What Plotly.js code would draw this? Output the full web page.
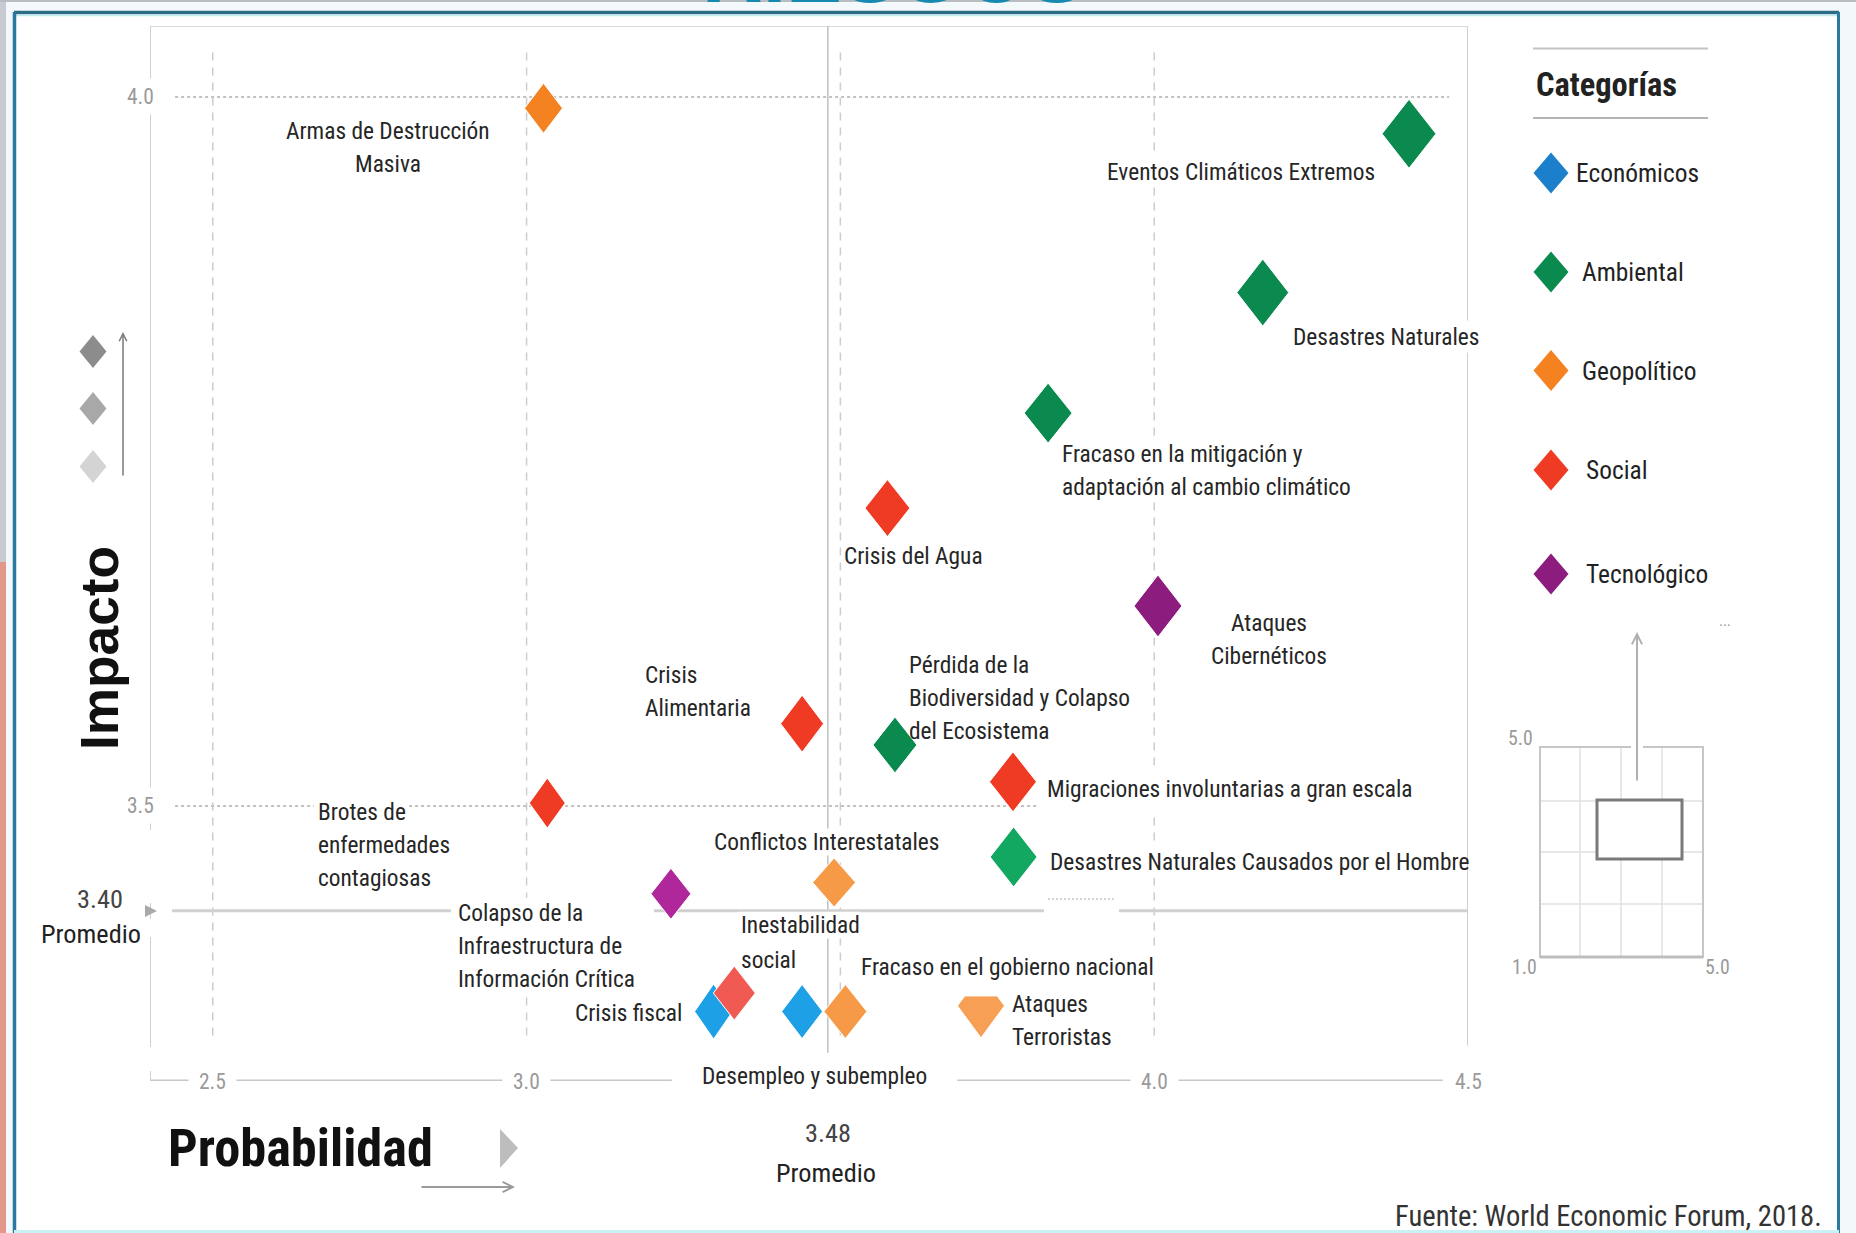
<!DOCTYPE html>
<html>
<head>
<meta charset="utf-8">
<script src="https://cdn.plot.ly/plotly-3.0.1.min.js"></script>
<style>
  html, body { margin: 0; padding: 0; background: #ffffff; }
  #chart { width: 1856px; height: 1233px; }
</style>
</head>
<body>
<div id="chart"></div>
<script>
// ------------------------------------------------------------------
// DATA
// ------------------------------------------------------------------
const riskNames = [
  'Armas de Destrucción Masiva',
  'Eventos Climáticos Extremos',
  'Desastres Naturales',
  'Fracaso en la mitigación y adaptación al cambio climático',
  'Crisis del Agua',
  'Ataques Cibernéticos',
  'Crisis Alimentaria',
  'Pérdida de la Biodiversidad y Colapso del Ecosistema',
  'Migraciones involuntarias a gran escala',
  'Brotes de enfermedades contagiosas',
  'Desastres Naturales Causados por el Hombre',
  'Conflictos Interestatales',
  'Colapso de la Infraestructura de Información Crítica',
  'Crisis fiscal',
  'Inestabilidad social',
  'Desempleo y subempleo',
  'Fracaso en el gobierno nacional',
  'Ataques Terroristas'
];
const riskLabels = [
  'Armas de Destrucción<br>Masiva',
  'Eventos Climáticos Extremos',
  'Desastres Naturales',
  'Fracaso en la mitigación y<br>adaptación al cambio climático',
  'Crisis del Agua',
  'Ataques<br>Cibernéticos',
  'Crisis<br>Alimentaria',
  'Pérdida de la<br>Biodiversidad y Colapso<br>del Ecosistema',
  'Migraciones involuntarias a gran escala',
  'Brotes de<br>enfermedades<br>contagiosas',
  'Desastres Naturales Causados por el Hombre',
  'Conflictos Interestatales',
  'Colapso de la<br>Infraestructura de<br>Información Crítica',
  'Crisis fiscal',
  'Inestabilidad<br>social',
  'Desempleo y subempleo',
  'Fracaso en el gobierno nacional',
  'Ataques<br>Terroristas'
];
const riskCategory = [
  'Geopolítico', 'Ambiental', 'Ambiental', 'Ambiental', 'Social', 'Tecnológico',
  'Social', 'Ambiental', 'Social', 'Social', 'Ambiental', 'Geopolítico',
  'Tecnológico', 'Económicos', 'Social', 'Económicos', 'Geopolítico', 'Geopolítico'
];
const probability = [
  3.027, 4.406, 4.173, 3.831, 3.575, 4.006,
  3.439, 3.587, 3.775, 3.033, 3.776, 3.490,
  3.230, 3.298, 3.331, 3.439, 3.508, 3.724
];
const impact = [
  3.992, 3.974, 3.862, 3.777, 3.710, 3.641,
  3.558, 3.543, 3.517, 3.502, 3.464, 3.446,
  3.438, 3.355, 3.368, 3.355, 3.355, 3.359
];

const categoryNames = ['Económicos', 'Ambiental', 'Geopolítico', 'Social', 'Tecnológico'];

const xTickVals = [2.5, 3.0, 4.0, 4.5];
const xTickText = ['2.5', '3.0', '4.0', '4.5'];
const yTickVals = [4.0, 3.5];
const yTickText = ['4.0', '3.5'];
const gridXVals = [2.5, 3.0, 3.5, 4.0];

const avgProbability = 3.48;
const avgProbabilityText = '3.48';
const avgImpactDrawn = 3.426;
const avgImpactText = '3.40';

const miniTickText = ['5.0', '1.0', '5.0'];
const sourceText = 'Fuente: World Economic Forum, 2018.';
const headerText = 'RIESGOS';

// ------------------------------------------------------------------
// FONTS (pick an installed condensed face, fit sizes to the reference widths)
// ------------------------------------------------------------------
const measureCtx = document.createElement('canvas').getContext('2d');
function hasFont(fam) {
  const s = 'abcdefghijklmnopqrstuvwxyz ABCDEFGHIJKLM 0123456789';
  for (const base of ['monospace', 'serif']) {
    measureCtx.font = '40px ' + base;
    const w0 = measureCtx.measureText(s).width;
    measureCtx.font = '40px "' + fam + '", ' + base;
    const w1 = measureCtx.measureText(s).width;
    if (Math.abs(w0 - w1) > 0.5) return true;
  }
  return false;
}
const narrowCandidates = ['Liberation Sans Narrow', 'Arial Narrow', 'Noto Sans Condensed', 'Roboto Condensed',
                          'Open Sans Condensed', 'Noto Sans SemiCondensed', 'DejaVu Sans Condensed'];
const narrowFam = narrowCandidates.find(hasFont) || 'DejaVu Sans Condensed';
const NARROW = '"' + narrowFam + '", "DejaVu Sans Condensed", sans-serif';
const WIDE = '"Liberation Sans", Arial, sans-serif';
function fit(fam, weight, text, target) {
  measureCtx.font = weight + ' 100px ' + fam;
  return 100 * target / measureCtx.measureText(text).width;
}
const labelSize = (fit(NARROW, 'normal', 'Eventos Climáticos Extremos', 268) +
                   fit(NARROW, 'normal', 'Migraciones involuntarias a gran escala', 366)) / 2;
function textWidth(s) {
  measureCtx.font = 'normal 100px ' + NARROW;
  return measureCtx.measureText(s).width * labelSize / 100;
}
const tickSize = labelSize * 0.92;
const promedioSize = fit(NARROW, 'normal', 'Promedio', 100);
const legendSize = fit(NARROW, 'normal', 'Económicos', 123);
const catTitleSize = fit(NARROW, 'bold', 'Categorías', 141);
const probSize = fit(NARROW, 'bold', 'Probabilidad', 265);
const sourceSize = fit(NARROW, 'normal', sourceText, 427);
const impactoSize = fit(WIDE, 'bold', 'Impacto', 204);

// ------------------------------------------------------------------
// STYLE
// ------------------------------------------------------------------
const W = 1856, H = 1233;
const categoryColors = ['#1b7fcb', '#0b8a4f', '#f58220', '#f03b24', '#8c1c7e'];
const pointColors = [
  '#f58220', '#0b8a4f', '#0b8a4f', '#0b8a4f', '#f03b24', '#8c1c7e',
  '#f03b24', '#0b8a4f', '#f03b24', '#f03b24', '#13a862', '#f79a48',
  '#b0279c', '#1ea0e6', '#f05a52', '#1ea0e6', '#f79a48', '#f7a055'
];
const diamondW = [38, 54, 52, 48, 45, 48, 43, 44, 47, 36, 47, 43, 40, 38, 42, 41, 43, 47];
const diamondH = [50, 69, 67, 60, 57, 62, 57, 56, 60, 50, 60, 49, 51, 55, 54, 54, 54, 64];
const diamondCut = [0, 0, 0, 0, 0, 0, 0, 0, 0, 0, 0, 0, 0, 0, 0, 0, 0, 0.69];

const labelDX = [-155.5, -33, 29, 13, -44.5, 111, -158.5, 13, 33, -230.5, 35.5, -121.5, -214, -30.5, 5.5, 12.5, 14.5, 30];
const labelDY = [-39, -38, -44, -57, -47.5, -34, 32.5, 47, -7, -42, -5, 40.5, -52.5, -1, 50.5, -64, 45, -15];
const labelLineStep = [33, 33, 33, 33, 33, 33, 33, 33, 33, 33, 33, 33, 33, 33, 35, 33, 33, 33];
const labelAnchor = ['center', 'right', 'left', 'left', 'left', 'center', 'left', 'left', 'left', 'left',
                     'left', 'left', 'left', 'right', 'left', 'center', 'left', 'left'];
// white knock-out box behind a label: 0 = none, 1 = per line, 2 = whole block
const labelBgMode = [0, 1, 1, 2, 0, 0, 0, 0, 1, 1, 1, 1, 2, 0, 1, 1, 1, 0];
const labelPadL = [0, 3, 3, 3, 0, 0, 0, 0, 8, 3, 3, 2, 6, 0, 2, 30, 3, 0];
const labelPadR = [0, 3, 3, 3, 0, 0, 0, 0, 100, 3, 3, 2, 20, 0, 2, 30, 3, 0];
const labelPadY = [0, 2, 2, 2, 0, 0, 0, 0, 10, 2, 2, 0, 2, 0, 0, 4, 2, 0];

// plot frame (pixels)
const PL = 150, PR = 1468, PT = 26, PB = 1081;
const XR = [2.4, 4.5];
const YR = [3.306, 4.05];
const pxPerX = (PR - PL) / (XR[1] - XR[0]);
const pxPerY = (PB - PT) / (YR[1] - YR[0]);

const P = px => px / W;
const Q = py => 1 - py / H;

// ------------------------------------------------------------------
// TRACES: diamonds as filled polygons in data space
// ------------------------------------------------------------------
const traces = probability.map((x0, i) => {
  const y0 = impact[i];
  const hw = diamondW[i] / 2 / pxPerX;
  const hh = diamondH[i] / 2 / pxPerY;
  const f = diamondCut[i];
  let xs, ys;
  if (f > 0) {
    xs = [x0 - hw * f, x0 + hw * f, x0 + hw, x0, x0 - hw, x0 - hw * f];
    ys = [y0 + hh * (1 - f), y0 + hh * (1 - f), y0, y0 - hh, y0, y0 + hh * (1 - f)];
  } else {
    xs = [x0, x0 + hw, x0, x0 - hw, x0];
    ys = [y0 + hh, y0, y0 - hh, y0, y0 + hh];
  }
  return {
    type: 'scatter', mode: 'lines', x: xs, y: ys,
    fill: 'toself', fillcolor: pointColors[i],
    line: { color: '#ffffff', width: 1 },
    name: riskNames[i], legendgroup: riskCategory[i],
    hoverinfo: 'name', showlegend: false
  };
});

// ------------------------------------------------------------------
// SHAPES
// ------------------------------------------------------------------
const shapes = [];
function pLine(x0, y0, x1, y1, color, width, dash, layer) {
  shapes.push({ type: 'line', xref: 'paper', yref: 'paper', x0: P(x0), y0: Q(y0), x1: P(x1), y1: Q(y1),
    line: { color: color, width: width, dash: dash || 'solid' }, layer: layer || 'above' });
}
function pRect(x0, y0, x1, y1, fill, lineColor, lineWidth, layer) {
  shapes.push({ type: 'rect', xref: 'paper', yref: 'paper', x0: P(x0), y0: Q(y0), x1: P(x1), y1: Q(y1),
    fillcolor: fill, line: { color: lineColor || 'rgba(0,0,0,0)', width: lineWidth || 0 }, layer: layer || 'above' });
}
function pDiamond(cx, cy, w, h, color) {
  const x = P(cx), y = Q(cy), hw = w / 2 / W, hh = h / 2 / H;
  shapes.push({ type: 'path', xref: 'paper', yref: 'paper',
    path: `M${x},${y + hh} L${x + hw},${y} L${x},${y - hh} L${x - hw},${y} Z`,
    fillcolor: color, line: { width: 0 } });
}
function dLine(x0, y0, x1, y1, color, width, dash) {
  shapes.push({ type: 'line', xref: 'x', yref: 'y', x0: x0, y0: y0, x1: x1, y1: y1,
    line: { color: color, width: width, dash: dash || 'solid' }, layer: 'below' });
}

// page background pieces
pRect(0, 0, 6, 562, '#c7cbd1', null, 0, 'below');
pRect(0, 562, 6, H, '#e3968a', null, 0, 'below');
pRect(0, 0, W, 2, '#b9bdc2', null, 0, 'below');
pRect(15, 14, 1838, H + 10, '#ffffff', null, 0, 'below');
// teal frame
pLine(14, 12.5, 1839, 12.5, '#2c6c84', 3.5, 'solid', 'below');
pLine(14, 15.5, 1839, 15.5, '#bfeaf2', 1.5, 'solid', 'below');
pLine(14.5, 12, 14.5, H + 10, '#2b78a0', 3.5, 'solid', 'below');
pLine(1838.5, 12, 1838.5, H + 10, '#2b78a0', 3, 'solid', 'below');
pLine(14, H - 1.5, 1839, H - 1.5, '#c9f2f6', 3, 'solid', 'below');

// plot frame
dLine(XR[0], YR[1], XR[1], YR[1], '#dadada', 2);
dLine(XR[0], YR[0], XR[0], YR[1], '#cfcfcf', 2);
dLine(XR[0], YR[0], 4.46, YR[0], '#c8c8c8', 3);

// gridlines
gridXVals.forEach(v => dLine(v, 3.338, v, 4.035, '#cdcdcd', 1.5, '8px,7px'));
yTickVals.forEach(v => dLine(2.44, v, 4.47, v, '#c2c2c2', 2, 'dot'));

// average lines
dLine(avgProbability, YR[0] + 0.02, avgProbability, YR[1], '#c4c4c4', 1.6);
dLine(2.435, avgImpactDrawn, XR[1], avgImpactDrawn, '#d0d0d0', 3);

// white knock-out boxes behind labels (below the diamonds, above the lines)
riskLabels.forEach((t, i) => {
  if (!labelBgMode[i]) return;
  const lines = t.split('<br>');
  const n = lines.length;
  const step = labelLineStep[i];
  const lineH = labelSize * 1.15;
  const boxes = [];
  if (labelBgMode[i] === 2) {
    boxes.push({ w: Math.max.apply(null, lines.map(l => textWidth(l))), yc: labelDY[i], h: (n - 1) * step + lineH });
  } else {
    lines.forEach((l, k) => boxes.push({ w: textWidth(l), yc: labelDY[i] + ((n - 1) / 2 - k) * step, h: lineH }));
  }
  boxes.forEach(b => {
    let xl;
    if (labelAnchor[i] === 'left') xl = labelDX[i];
    else if (labelAnchor[i] === 'right') xl = labelDX[i] - b.w;
    else xl = labelDX[i] - b.w / 2;
    shapes.push({
      type: 'rect', xref: 'x', yref: 'y', xsizemode: 'pixel', ysizemode: 'pixel',
      xanchor: probability[i], yanchor: impact[i],
      x0: xl - labelPadL[i], x1: xl + b.w + labelPadR[i],
      y0: b.yc - b.h / 2 - labelPadY[i], y1: b.yc + b.h / 2 + labelPadY[i],
      fillcolor: '#ffffff', line: { width: 0 }, layer: 'below'
    });
  });
});

// right border of the plot, drawn after the knock-out boxes
dLine(XR[1], 3.331, XR[1], YR[1], '#cfcfcf', 2);
// the short stretch where "Desastres Naturales" crosses the border stays open, as in the reference
shapes.push({ type: 'rect', xref: 'x', yref: 'y', xsizemode: 'pixel', ysizemode: 'pixel',
  xanchor: XR[1], yanchor: impact[2], x0: -4, x1: 4, y0: labelDY[2] - 16, y1: labelDY[2] + 16,
  fillcolor: '#ffffff', line: { width: 0 }, layer: 'below' });

// small breaks in lines, as in the reference
pRect(1044, 904, 1119, 918, '#ffffff', null, 0);
pLine(1048, 899, 1116, 899, '#c8c8c8', 1.5, '2px,2px');
pRect(146, 830, 156, 903, '#ffffff', null, 0);
pRect(146, 919, 156, 937, '#ffffff', null, 0);
pRect(146, 1047, 156, 1071, '#ffffff', null, 0);

// avg impact marker triangle
shapes.push({ type: 'path', xref: 'paper', yref: 'paper',
  path: `M${P(145)},${Q(905)} L${P(157)},${Q(911)} L${P(145)},${Q(917)} Z`,
  fillcolor: '#a9a9a9', line: { width: 0 } });

// Probabilidad triangle
shapes.push({ type: 'path', xref: 'paper', yref: 'paper',
  path: `M${P(500)},${Q(1129)} L${P(518)},${Q(1148)} L${P(500)},${Q(1168)} Z`,
  fillcolor: '#bdbdbd', line: { width: 0 } });

// Impacto side diamonds
pDiamond(93, 351.5, 27, 33, '#8c8c8c');
pDiamond(93, 408.5, 27, 33, '#a8a8a8');
pDiamond(93, 466.5, 27, 33, '#d4d4d4');

// legend
pLine(1533, 48.5, 1708, 48.5, '#c4c4c4', 2);
pLine(1533, 118, 1708, 118, '#b4b4b4', 2);
const legendY = [173, 272, 370.5, 470, 574];
const legendTextX = [1574, 1580, 1580, 1584, 1584];
categoryNames.forEach((c, i) => pDiamond(1551, legendY[i], 35, 41, categoryColors[i]));

// mini chart
[1580, 1621, 1662].forEach(x => pLine(x, 747, x, 957, '#e0e0e0', 1.5));
[801, 852, 904].forEach(y => pLine(1540, y, 1703, y, '#e0e0e0', 1.5));
pRect(1540, 747, 1703, 957, 'rgba(0,0,0,0)', '#c6c6c6', 2);
pLine(1540, 957, 1703, 957, '#bdbdbd', 3);
pRect(1631, 744, 1643, 750, '#ffffff', null, 0);
pRect(1597, 800, 1682, 859, '#ffffff', '#7a7a7a', 3);

// ------------------------------------------------------------------
// ANNOTATIONS
// ------------------------------------------------------------------
const annotations = [];
function pText(px, py, text, size, color, opts) {
  annotations.push(Object.assign({
    xref: 'paper', yref: 'paper', x: P(px), y: Q(py), text: text, showarrow: false,
    xanchor: 'center', yanchor: 'middle',
    font: { family: NARROW, size: size, color: color }
  }, opts || {}));
}

// header (cut off at top, as in the reference)
pText(893, 22, headerText, 84, '#1789b0', { yanchor: 'bottom', font: { family: WIDE, size: 84, color: '#1789b0', weight: 700 } });

// point labels: one annotation per line so the line spacing matches the reference
riskLabels.forEach((t, i) => {
  const lines = t.split('<br>');
  const n = lines.length;
  const step = labelLineStep[i];
  lines.forEach((line, k) => {
    annotations.push({
      xref: 'x', yref: 'y', x: probability[i], y: impact[i],
      xshift: labelDX[i], yshift: labelDY[i] + ((n - 1) / 2 - k) * step,
      xanchor: labelAnchor[i], yanchor: 'middle', align: labelAnchor[i],
      text: line, showarrow: false, borderpad: 0,
      font: { family: NARROW, size: labelSize, color: '#262626' }
    });
  });
});

// x tick labels on the axis line
xTickVals.forEach((v, i) => annotations.push({
  xref: 'x', yref: 'y', x: v, y: YR[0], text: xTickText[i], showarrow: false,
  xanchor: 'center', yanchor: 'middle',
  font: { family: NARROW, size: tickSize, color: '#9a9a9a' },
  bgcolor: '#ffffff', borderpad: 10
}));
// y tick labels on the axis line
yTickVals.forEach((v, i) => annotations.push({
  xref: 'x', yref: 'y', x: XR[0], y: v, xshift: -10, text: yTickText[i], showarrow: false,
  xanchor: 'center', yanchor: 'middle',
  font: { family: NARROW, size: tickSize, color: '#9a9a9a' },
  bgcolor: '#ffffff', borderpad: 5
}));

// average labels
annotations.push({ xref: 'x', yref: 'paper', x: avgProbability, y: Q(1133), text: avgProbabilityText,
  showarrow: false, xanchor: 'center', yanchor: 'middle', font: { family: NARROW, size: promedioSize, color: '#444444' } });
annotations.push({ xref: 'x', yref: 'paper', x: avgProbability, y: Q(1173), xshift: -2, text: 'Promedio',
  showarrow: false, xanchor: 'center', yanchor: 'middle', font: { family: NARROW, size: promedioSize, color: '#222222' } });
annotations.push({ xref: 'paper', yref: 'y', x: P(100), y: avgImpactDrawn, yshift: 12, text: avgImpactText,
  showarrow: false, xanchor: 'center', yanchor: 'middle', font: { family: NARROW, size: promedioSize, color: '#444444' } });
annotations.push({ xref: 'paper', yref: 'y', x: P(91), y: avgImpactDrawn, yshift: -23, text: 'Promedio',
  showarrow: false, xanchor: 'center', yanchor: 'middle', font: { family: NARROW, size: promedioSize, color: '#222222' } });

// axis titles
pText(300, 1148, 'Probabilidad', probSize, '#111111', { font: { family: NARROW, size: probSize, color: '#111111', weight: 700 } });
annotations.push({ xref: 'paper', yref: 'paper', x: P(515), y: Q(1187), ax: -95, ay: 0, text: '',
  showarrow: true, arrowhead: 5, arrowsize: 1, arrowwidth: 2, arrowcolor: '#9a9a9a' });
pText(99, 648, 'Impacto', impactoSize, '#111111', { textangle: -90, font: { family: WIDE, size: impactoSize, color: '#111111', weight: 700 } });
annotations.push({ xref: 'paper', yref: 'paper', x: P(123), y: Q(332), ax: 0, ay: 145, text: '',
  showarrow: true, arrowhead: 5, arrowsize: 1, arrowwidth: 1.5, arrowcolor: '#7a7a7a' });

// legend texts
pText(1606, 85, 'Categorías', catTitleSize, '#222222', { font: { family: NARROW, size: catTitleSize, color: '#222222', weight: 700 } });
categoryNames.forEach((c, i) => pText(legendTextX[i], legendY[i], c, legendSize, '#222222', { xanchor: 'left' }));

// mini chart texts and arrow
pText(1520, 738, miniTickText[0], tickSize * 0.92, '#9a9a9a');
pText(1524, 967, miniTickText[1], tickSize * 0.92, '#9a9a9a');
pText(1717, 967, miniTickText[2], tickSize * 0.92, '#9a9a9a');
annotations.push({ xref: 'paper', yref: 'paper', x: P(1637), y: Q(632), ax: 0, ay: 150, text: '',
  showarrow: true, arrowhead: 5, arrowsize: 1, arrowwidth: 2, arrowcolor: '#b0b0b0' });
pText(1725, 625, '···', 16, '#9a9a9a');

// source
pText(1824, 1216, sourceText, sourceSize, '#333333', { xanchor: 'right' });

// ------------------------------------------------------------------
// LAYOUT
// ------------------------------------------------------------------
const layout = {
  width: W, height: H, autosize: false,
  margin: { l: 0, r: 0, t: 0, b: 0, pad: 0 },
  paper_bgcolor: '#f3f9fb',
  plot_bgcolor: 'rgba(0,0,0,0)',
  showlegend: false,
  xaxis: { domain: [P(PL), P(PR)], range: XR, visible: false, fixedrange: true },
  yaxis: { domain: [Q(PB), Q(PT)], range: YR, visible: false, fixedrange: true },
  shapes: shapes,
  annotations: annotations,
  hovermode: 'closest'
};

Plotly.newPlot('chart', traces, layout, { displayModeBar: false, staticPlot: true });
</script>
</body>
</html>
